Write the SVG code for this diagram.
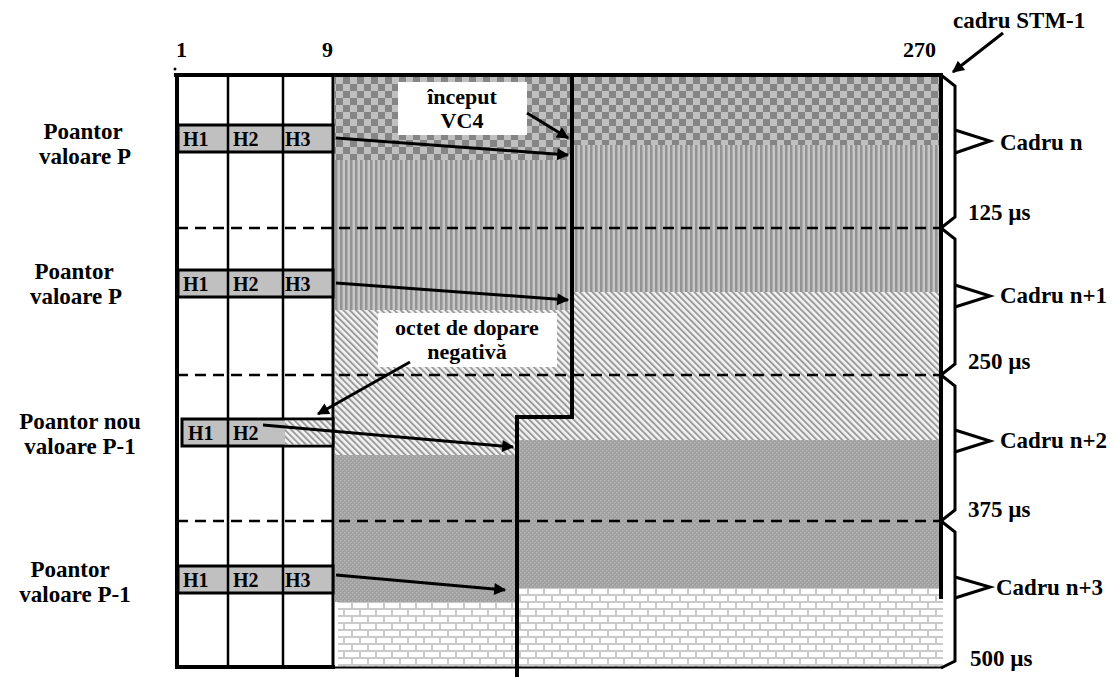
<svg xmlns="http://www.w3.org/2000/svg" width="1116" height="677" viewBox="0 0 1116 677">
<style>
text{font-family:"Liberation Serif","Times New Roman",serif;font-weight:bold;fill:#000}
.lbl{font-size:22px}
.rl{font-size:23px}
.h{font-size:20px}
.ln{stroke:#000;fill:none}
.dash{stroke:#000;stroke-width:2.5;stroke-dasharray:11 7;fill:none}
.arr{stroke:#000;stroke-width:3;fill:none;marker-end:url(#ah)}
.brace{stroke:#000;stroke-width:3;fill:none;stroke-linejoin:miter}
.hrow{fill:#c0c0c0;stroke:#000;stroke-width:3}
</style>
<defs>
<marker id="ah" viewBox="0 0 10 10" refX="9" refY="5" markerWidth="5" markerHeight="4" orient="auto" markerUnits="strokeWidth">
<path d="M0,0 L10,5 L0,10 z" fill="#000"/>
</marker>
<pattern id="checker" patternUnits="userSpaceOnUse" width="14" height="14">
<rect width="14" height="14" fill="#c0c0c0"/>
<rect width="7" height="7" fill="#858585"/>
<rect x="7" y="7" width="7" height="7" fill="#858585"/>
</pattern>
<pattern id="vstripe" patternUnits="userSpaceOnUse" width="5" height="10">
<rect width="5" height="10" fill="#c6c6c6"/>
<rect width="2.5" height="10" fill="#939393"/>
</pattern>
<pattern id="diag" patternUnits="userSpaceOnUse" width="4.5" height="10" patternTransform="rotate(-45)">
<rect width="4.5" height="10" fill="#f4f4f4"/>
<rect width="2" height="10" fill="#9c9c9c"/>
</pattern>
<pattern id="dark" patternUnits="userSpaceOnUse" width="4" height="4">
<rect width="4" height="4" fill="#a0a0a0"/>
<rect width="1.5" height="1.5" fill="#b6b6b6"/>
<rect x="2" y="2" width="1.5" height="1.5" fill="#b6b6b6"/>
</pattern>
<pattern id="brick" patternUnits="userSpaceOnUse" width="16" height="14">
<rect width="16" height="14" fill="#cacaca"/>
<rect x="1" y="1" width="14" height="5" fill="#fff"/>
<rect x="-7" y="8" width="14" height="5" fill="#fff"/>
<rect x="9" y="8" width="14" height="5" fill="#fff"/>
</pattern>
</defs>

<g id="payload">
<rect x="335" y="77" width="606" height="68" fill="url(#checker)"/>
<rect x="335" y="145" width="606" height="147" fill="url(#vstripe)"/>
<rect x="335" y="292" width="606" height="148" fill="url(#diag)"/>
<rect x="335" y="440" width="606" height="148" fill="url(#dark)"/>
<rect x="338" y="588" width="605" height="79" fill="url(#brick)"/>
<rect x="335" y="145" width="237" height="15" fill="url(#checker)"/>
<rect x="335" y="292" width="237" height="18" fill="url(#vstripe)"/>
<rect x="335" y="440" width="182" height="15" fill="url(#diag)"/>
<rect x="335" y="588" width="182" height="14" fill="url(#dark)"/>
</g>

<g id="frame">
<line class="ln" x1="174" y1="75" x2="943" y2="75" stroke-width="4"/>
<line class="ln" x1="177" y1="73" x2="177" y2="669" stroke-width="4"/>
<line class="ln" x1="228" y1="75" x2="228" y2="667" stroke-width="2.5"/>
<line class="ln" x1="283" y1="75" x2="283" y2="667" stroke-width="2.5"/>
<line class="ln" x1="333" y1="75" x2="333" y2="667" stroke-width="3"/>
<line class="ln" x1="941" y1="75" x2="941" y2="599" stroke-width="4"/>
<line class="ln" x1="175" y1="667" x2="335" y2="667" stroke-width="4"/>
<line class="ln" x1="335" y1="667.5" x2="943" y2="667.5" stroke-width="2"/>
<circle cx="175" cy="69" r="1.5" fill="#000"/>
<line class="dash" x1="177" y1="228" x2="941" y2="228"/>
<line class="dash" x1="177" y1="375" x2="941" y2="375"/>
<line class="dash" x1="177" y1="521" x2="941" y2="521"/>
</g>

<g id="hrow-n">
<rect class="hrow" x="178" y="125" width="155" height="27"/>
<line class="ln" x1="228" y1="125" x2="228" y2="152" stroke-width="2.5"/>
<line class="ln" x1="283" y1="125" x2="283" y2="152" stroke-width="2.5"/>
<text class="h" x="183" y="146">H1</text>
<text class="h" x="233" y="146">H2</text>
<text class="h" x="285" y="146">H3</text>
</g>
<g id="hrow-n1">
<rect class="hrow" x="178" y="270" width="155" height="27"/>
<line class="ln" x1="228" y1="270" x2="228" y2="297" stroke-width="2.5"/>
<line class="ln" x1="283" y1="270" x2="283" y2="297" stroke-width="2.5"/>
<text class="h" x="183" y="291">H1</text>
<text class="h" x="233" y="291">H2</text>
<text class="h" x="285" y="291">H3</text>
</g>
<g id="hrow-n2">
<rect class="hrow" x="182" y="419" width="151" height="27"/>
<rect x="285" y="420.5" width="46.5" height="24" fill="url(#diag)"/>
<line class="ln" x1="228" y1="419" x2="228" y2="446" stroke-width="2.5"/>
<text class="h" x="188" y="440">H1</text>
<text class="h" x="233" y="440">H2</text>
</g>
<g id="hrow-n3">
<rect class="hrow" x="178" y="566" width="155" height="27"/>
<line class="ln" x1="228" y1="566" x2="228" y2="593" stroke-width="2.5"/>
<line class="ln" x1="283" y1="566" x2="283" y2="593" stroke-width="2.5"/>
<text class="h" x="183" y="587">H1</text>
<text class="h" x="233" y="587">H2</text>
<text class="h" x="285" y="587">H3</text>
</g>

<g id="vc4-line">
<path class="ln" d="M572,77 L572,417 L517,417 L517,677" stroke-width="4"/>
</g>

<g id="label-inceput">
<rect x="398" y="82" width="129" height="53" fill="#fff"/>
<text class="lbl" x="462" y="104" text-anchor="middle">început</text>
<text class="lbl" x="462" y="128" text-anchor="middle">VC4</text>
</g>
<g id="label-octet">
<rect x="378" y="313" width="179" height="54" fill="#fff"/>
<text class="lbl" x="467" y="335" text-anchor="middle">octet de dopare</text>
<text class="lbl" x="467" y="359" text-anchor="middle">negativă</text>
</g>

<g id="connectors">
<line class="arr" x1="336" y1="138" x2="568" y2="155"/>
<line class="arr" x1="336" y1="283" x2="568" y2="300"/>
<line class="arr" x1="263" y1="425" x2="513" y2="447"/>
<line class="arr" x1="336" y1="575" x2="505" y2="590"/>
<line class="arr" x1="527" y1="113" x2="568" y2="138"/>
<line class="arr" x1="410" y1="362" x2="318" y2="414"/>
<line class="arr" x1="1003" y1="33" x2="953" y2="72"/>
</g>

<g id="braces">
<path class="brace" d="M941,75 L955,86 L955,217 L941,228"/>
<path class="brace" d="M955,130 L990,141 L955,153"/>
<path class="brace" d="M941,228 L955,239 L955,364 L941,375"/>
<path class="brace" d="M955,285 L990,296 L955,307"/>
<path class="brace" d="M941,375 L955,386 L955,510 L941,521"/>
<path class="brace" d="M955,430 L990,441 L955,452"/>
<path class="brace" d="M941,521 L955,532 L955,661 L941,668"/>
<path class="brace" d="M955,577 L990,587 L955,598"/>
</g>

<g id="labels">
<text class="lbl" x="176" y="57">1</text>
<text class="lbl" x="322" y="57">9</text>
<text class="lbl" x="903" y="57">270</text>
<text class="rl" x="953" y="28">cadru STM-1</text>
<text class="rl" x="83" y="139" text-anchor="middle">Poantor</text>
<text class="rl" x="85" y="164" text-anchor="middle">valoare P</text>
<text class="rl" x="80" y="429" text-anchor="middle">Poantor nou</text>
<text class="rl" x="80" y="454" text-anchor="middle">valoare P-1</text>
<text class="rl" x="74" y="279" text-anchor="middle">Poantor</text>
<text class="rl" x="76" y="304" text-anchor="middle">valoare P</text>
<text class="rl" x="70" y="577" text-anchor="middle">Poantor</text>
<text class="rl" x="75" y="602" text-anchor="middle">valoare P-1</text>
<text class="rl" x="1000" y="150">Cadru n</text>
<text class="rl" x="1000" y="303">Cadru n+1</text>
<text class="rl" x="1000" y="448">Cadru n+2</text>
<text class="rl" x="996" y="595">Cadru n+3</text>
<text class="rl" x="968" y="220">125 µs</text>
<text class="rl" x="968" y="369">250 µs</text>
<text class="rl" x="968" y="517">375 µs</text>
<text class="rl" x="970" y="666">500 µs</text>
</g>
</svg>
